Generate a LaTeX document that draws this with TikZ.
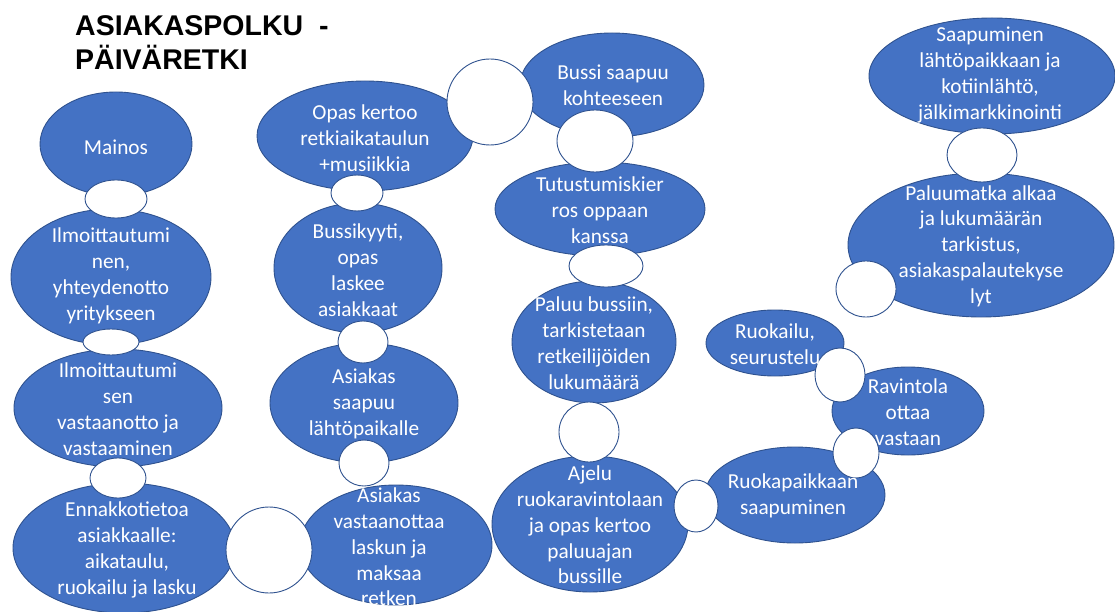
\documentclass[tikz,border=0pt]{standalone}
\usepackage{fontspec}
\setmainfont{Carlito}
\newfontfamily\titlefont{Liberation Sans}
\usetikzlibrary{shapes.geometric}
\definecolor{blueF}{HTML}{4472C4}
\definecolor{blueD}{HTML}{2F528F}
\tikzset{
  blob/.style={ellipse, fill=blueF, draw=blueD, line width=0.9pt, inner sep=0pt},
  hole/.style={ellipse, fill=white, draw=blueD, line width=0.9pt, inner sep=0pt},
  lbl/.style={text=white, align=center, inner sep=0pt, font=\fontsize{21.3}{25.8}\selectfont},
  sz/.style 2 args={minimum width=#1pt, minimum height=#2pt}
}
\begin{document}
\begin{tikzpicture}[x=1pt, y=-1pt]
\useasboundingbox (0,0) rectangle (1115,612);
% title
\node[anchor=north west, inner sep=0pt, align=left, font=\titlefont\bfseries\fontsize{28.5}{34}\selectfont] (title) at (75,15) {ASIAKASPOLKU\ \ -\\PÄIVÄRETKI};
% blobs
\node[blob, sz={152}{104}] (b1) at (116,144) {};
\node[blob, sz={200}{136}] (b2) at (111,277) {};
\node[blob, sz={208}{118}] (b3) at (118,408) {};
\node[blob, sz={222}{130}] (b4) at (124,548) {};
\node[blob, sz={192}{120}] (b5) at (396,545) {};
\node[blob, sz={188}{120}] (b6) at (364,403) {};
\node[blob, sz={168}{130}] (b7) at (358,268) {};
\node[blob, sz={216}{110}] (b8) at (365,136) {};
\node[blob, sz={184}{104}] (b9) at (612,85) {};
\node[blob, sz={210}{94}] (b10) at (600,209) {};
\node[blob, sz={164}{122}] (b11) at (594,342) {};
\node[blob, sz={196}{136}] (b12) at (590,524) {};
\node[blob, sz={180}{96}] (b13) at (795,495) {};
\node[blob, sz={152}{88}] (b14) at (908,411) {};
\node[blob, sz={138}{66}] (b15) at (775,343) {};
\node[blob, sz={266}{144}] (b16) at (981,245) {};
\node[blob, sz={246}{116}] (b17) at (992,76) {};
% holes
\node[hole, sz={62}{38}] (h1) at (116,199) {};
\node[hole, sz={56}{26}] (h2) at (111,342) {};
\node[hole, sz={56}{40}] (h3) at (118,478) {};
\node[hole, sz={86}{86}] (h4) at (269,550) {};
\node[hole, sz={50}{46}] (h5) at (364,463) {};
\node[hole, sz={50}{42}] (h6) at (363,342) {};
\node[hole, sz={52}{36}] (h7) at (357,193) {};
\node[hole, sz={86}{86}] (h8) at (490,102) {};
\node[hole, sz={76}{62}] (h9) at (595,141) {};
\node[hole, sz={74}{42}] (h10) at (606,266) {};
\node[hole, sz={60}{60}] (h11) at (589,432) {};
\node[hole, sz={44}{52}] (h12) at (696,506) {};
\node[hole, sz={46}{50}] (h13) at (856,453) {};
\node[hole, sz={50}{54}] (h14) at (840,375) {};
\node[hole, sz={60}{56}] (h15) at (866,289) {};
\node[hole, sz={70}{54}] (h16) at (982,155) {};
% labels
\node[lbl] (t1) at (116,147) {Mainos};
\node[lbl] (t2) at (111,276) {Ilmoittautumi\\nen,\\yhteydenotto\\yritykseen};
\node[lbl] (t3) at (118,409) {Ilmoittautumi\\sen\\vastaanotto ja\\vastaaminen};
\node[lbl] (t4) at (127,550) {Ennakkotietoa\\asiakkaalle:\\aikataulu,\\ruokailu ja lasku};
\node[lbl] (t5) at (389,547) {Asiakas\\vastaanottaa\\laskun ja\\maksaa\\retken};
\node[lbl] (t6) at (364,404) {Asiakas\\saapuu\\lähtöpaikalle};
\node[lbl] (t7) at (358,270) {Bussikyyti,\\opas\\laskee\\asiakkaat};
\node[lbl] (t8) at (365,138) {Opas kertoo\\retkiaikataulun\\+musiikkia};
\node[lbl] (t9) at (613,85) {Bussi saapuu\\kohteeseen};
\node[lbl] (t10) at (600,210) {Tutustumiskier\\ros oppaan\\kanssa};
\node[lbl] (t11) at (594,343) {Paluu bussiin,\\tarkistetaan\\retkeilijöiden\\lukumäärä};
\node[lbl] (t12) at (590,525) {Ajelu\\ruokaravintolaan\\ja opas kertoo\\paluuajan\\bussille};
\node[lbl] (t13) at (793,496) {Ruokapaikkaan\\saapuminen};
\node[lbl] (t14) at (908,412) {Ravintola\\ottaa\\vastaan};
\node[lbl] (t15) at (775,344) {Ruokailu,\\seurustelu};
\node[lbl] (t16) at (981,246) {Paluumatka alkaa\\ja lukumäärän\\tarkistus,\\asiakaspalautekyse\\lyt};
\node[lbl] (t17) at (990,75) {Saapuminen\\lähtöpaikkaan ja\\kotiinlähtö,\\jälkimarkkinointi};
\end{tikzpicture}
\end{document}
